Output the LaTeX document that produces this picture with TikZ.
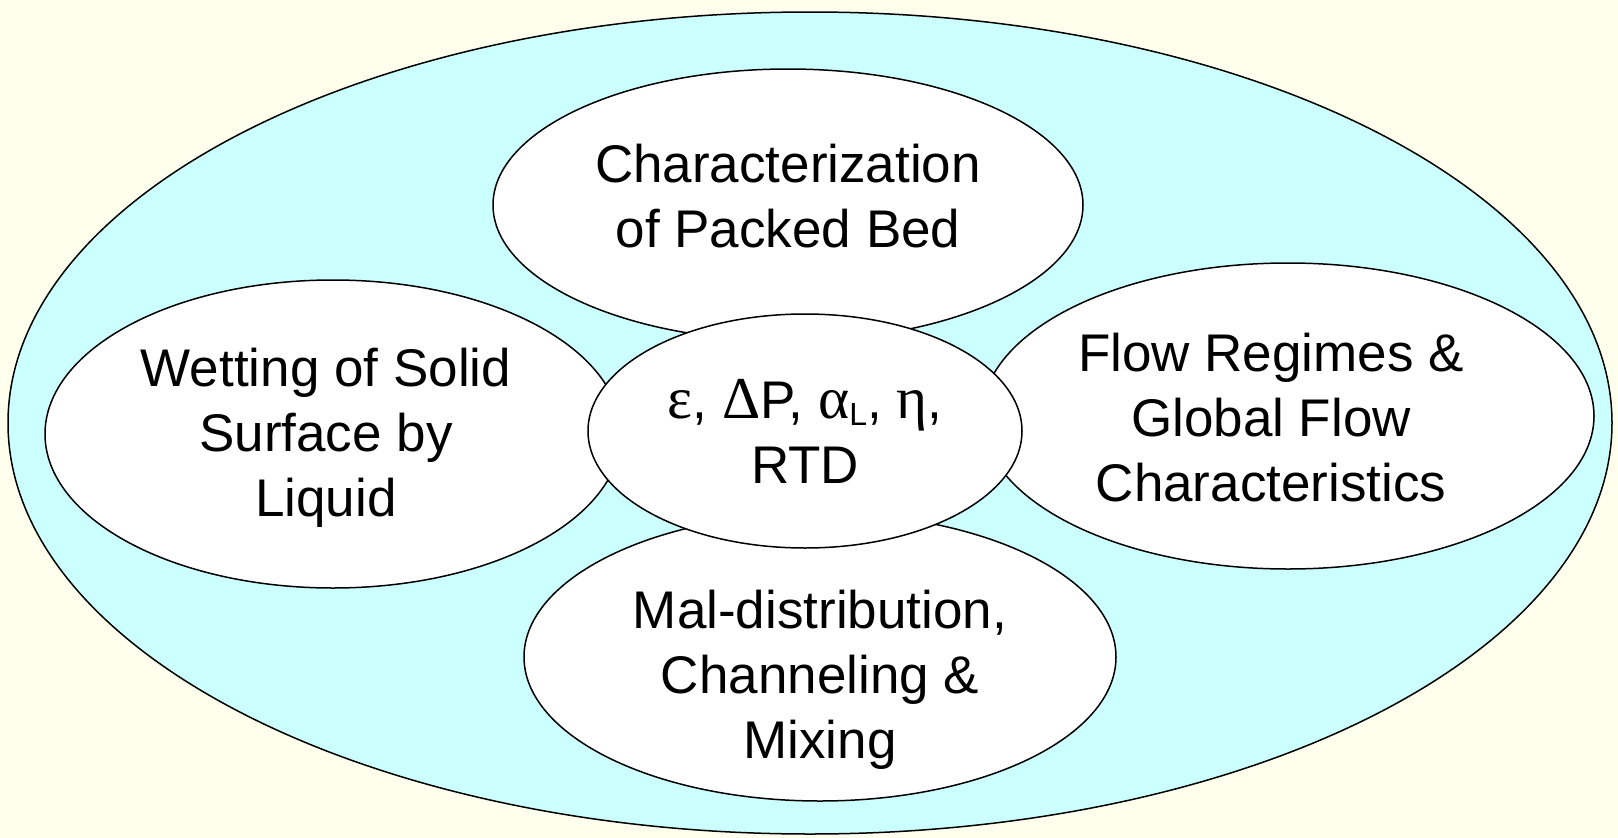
\documentclass[tikz,border=0pt]{standalone}
\usepackage{fontspec}
\setmainfont{Liberation Sans}
\newfontfamily\greekfont[Scale=1.12]{Liberation Serif}
\usetikzlibrary{shapes.geometric}
\definecolor{pagebg}{HTML}{FFFFEE}
\definecolor{outerfill}{HTML}{CCFFFF}
\begin{document}
\begin{tikzpicture}[x=1pt,y=-1pt,
  blob/.style={ellipse,draw=black,line width=1.5pt,fill=white,inner sep=0pt},
  txt/.style={align=center,inner sep=0pt,font=\fontsize{53}{65}\selectfont},
  ]%
% page and outer ring
\fill[pagebg] (0,0) rectangle (1618,838);
\useasboundingbox (0,0) rectangle (1618,838);
\node[ellipse,draw=black,line width=1.5pt,fill=outerfill,minimum width=1604pt,minimum height=822pt] (outer) at (810,423) {};
% surrounding topics
\node[blob,minimum width=590pt,minimum height=272pt] (bed) at (788,205) {};
\node[txt,yshift=9pt] (bedtxt) at (bed) {Characterization\\of Packed Bed};
\node[blob,minimum width=576pt,minimum height=308pt] (wetting) at (333,434) {};
\node[txt,xshift=-7pt,yshift=-4pt] (wettingtxt) at (wetting) {Wetting of Solid\\Surface by\\Liquid};
\node[blob,minimum width=612pt,minimum height=306pt] (flow) at (1288,416) {};
\node[txt,xshift=-17pt,yshift=-2pt] (flowtxt) at (flow) {Flow Regimes \&\\Global Flow\\Characteristics};
\node[blob,minimum width=592pt,minimum height=288pt] (maldist) at (820,657) {};
\node[txt,yshift=-23pt] (maldisttxt) at (maldist) {Mal-distribution,\\Channeling \&\\Mixing};
% centre
\node[blob,minimum width=434pt,minimum height=234pt] (params) at (805,431) {};
\node[txt] (paramstxt) at (params)
  {{\greekfont ε}, {\greekfont Δ}P, {\greekfont α}\raisebox{-0.25ex}{\fontsize{32}{32}\selectfont L}, {\greekfont η},\\RTD};
\end{tikzpicture}
\end{document}
